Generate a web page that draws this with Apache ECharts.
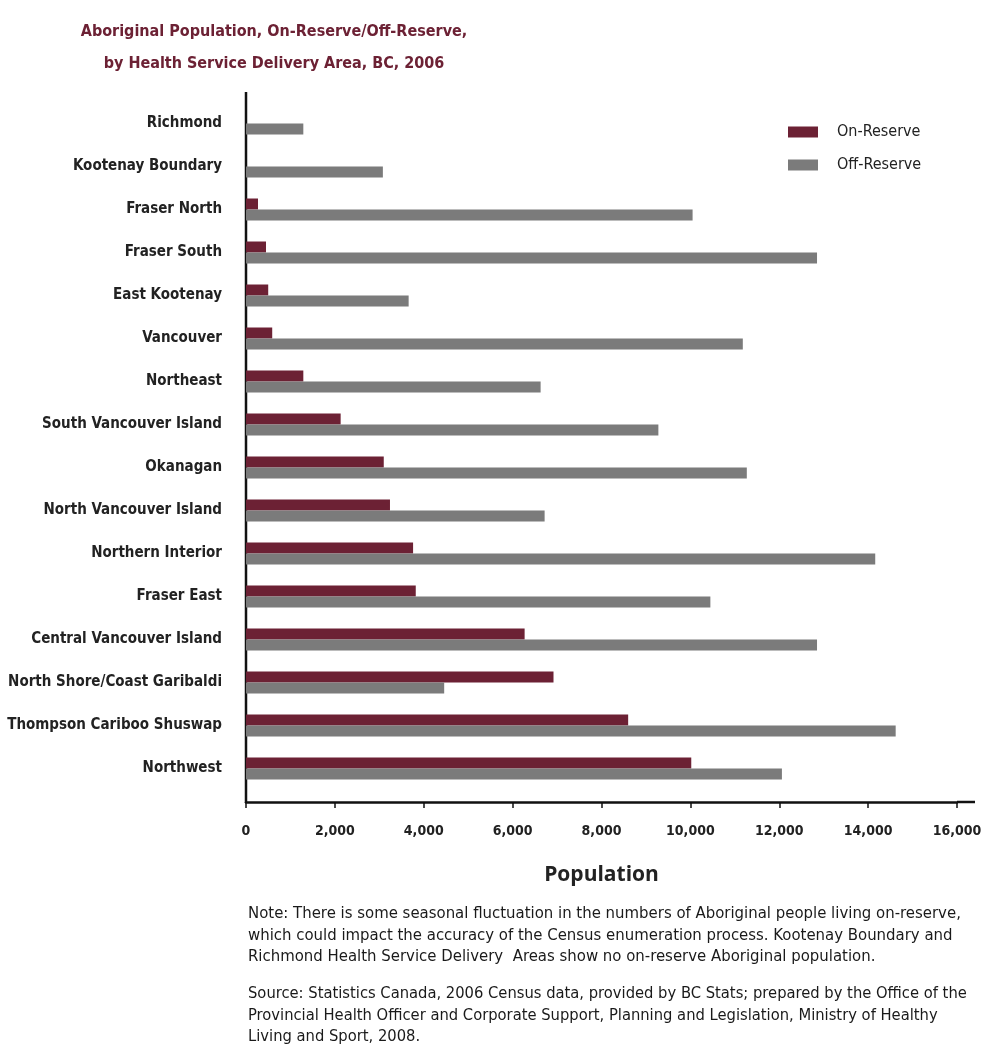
<!DOCTYPE html>
<html>
<head>
<meta charset="utf-8">
<script src="https://cdn.jsdelivr.net/npm/echarts@6/dist/echarts.min.js"></script>
<style>
  html, body { margin: 0; padding: 0; background: #fff; }
  #main { width: 991px; height: 1057px; }
</style>
</head>
<body>
<div id="main"></div>
<script>
  // health service delivery areas, top to bottom as in the chart
  var areas = ['Richmond', 'Kootenay Boundary', 'Fraser North', 'Fraser South', 'East Kootenay',
    'Vancouver', 'Northeast', 'South Vancouver Island', 'Okanagan', 'North Vancouver Island',
    'Northern Interior', 'Fraser East', 'Central Vancouver Island', 'North Shore/Coast Garibaldi',
    'Thompson Cariboo Shuswap', 'Northwest']
  var onReserve = [0, 0, 270, 450, 500, 590, 1290, 2130, 3100, 3240, 3760, 3820, 6270, 6920, 8600, 10020]
  var offReserve = [1290, 3080, 10050, 12850, 3660, 11180, 6630, 9280, 11270, 6720, 14160, 10450, 12850, 4460, 14620, 12060]
  var xTicks = [0, 2000, 4000, 6000, 8000, 10000, 12000, 14000, 16000]

  var noteText = 'Note: There is some seasonal fluctuation in the numbers of Aboriginal people living on-reserve,\n' +
    'which could impact the accuracy of the Census enumeration process. Kootenay Boundary and\n' +
    'Richmond Health Service Delivery  Areas show no on-reserve Aboriginal population.'
  var sourceText = 'Source: Statistics Canada, 2006 Census data, provided by BC Stats; prepared by the Office of the\n' +
    'Provincial Health Officer and Corporate Support, Planning and Legislation, Ministry of Healthy\n' +
    'Living and Sport, 2008.'

  var narrow = '"Liberation Sans Narrow", "DejaVu Sans Condensed", sans-serif'
  var maroon = '#6c2134'
  var grey = '#7b7b7b'

  var chart = echarts.init(document.getElementById('main'))

  var option = {
    animation: false,
    backgroundColor: '#fff',
    title: {
      text: 'Aboriginal Population, On-Reserve/Off-Reserve,\nby Health Service Delivery Area, BC, 2006',
      left: 269,
      top: 11,
      textAlign: 'center',
      textStyle: {
        fontFamily: narrow,
        fontWeight: 'bold',
        fontSize: 16,
        lineHeight: 32,
        color: maroon
      }
    },
    legend: {
      orient: 'vertical',
      left: 783,
      top: 119,
      icon: 'rect',
      itemWidth: 30,
      itemHeight: 11,
      itemGap: 17,
      textStyle: { fontFamily: narrow, fontSize: 16, color: '#222', padding: [0, 0, 0, 14] },
      data: ['On-Reserve', 'Off-Reserve']
    },
    grid: {
      left: 246,
      right: 34,
      top: 102,
      height: 688
    },
    xAxis: {
      type: 'value',
      min: 0,
      max: 16000,
      interval: 2000,
      offset: 12,
      name: 'Population',
      nameLocation: 'middle',
      nameGap: 63,
      nameTextStyle: { fontFamily: '"Open Sans", sans-serif', fontWeight: 'bold', fontSize: 21, color: '#222' },
      axisLine: { show: true, lineStyle: { color: '#111', width: 2.5 } },
      axisTick: { show: true, length: 6, lineStyle: { color: '#111', width: 1.5 } },
      splitLine: { show: false },
      axisLabel: {
        margin: 22,
        fontFamily: narrow,
        fontSize: 14,
        fontWeight: 'bold',
        color: '#222',
        formatter: function (v) { return xTicks.indexOf(v) >= 0 ? v.toLocaleString('en-US') : '' }
      }
    },
    yAxis: {
      type: 'category',
      inverse: true,
      data: areas,
      axisLine: { show: false },
      axisTick: { show: false },
      axisLabel: {
        margin: 24,
        fontFamily: narrow,
        fontSize: 15,
        fontWeight: 'bold',
        color: '#222'
      }
    },
    graphic: [
      // y axis line runs a little past the plot at both ends, as in the source
      { type: 'line', shape: { x1: 246, y1: 92, x2: 246, y2: 803 }, style: { stroke: '#111', lineWidth: 2.5 } },
      { type: 'line', shape: { x1: 957, y1: 802, x2: 975, y2: 802 }, style: { stroke: '#111', lineWidth: 2.5 } },
      {
        type: 'text', left: 248, top: 903,
        style: { text: noteText, fontFamily: narrow, fontSize: 16.6, lineHeight: 21.5, fill: '#1a1a1a' }
      },
      {
        type: 'text', left: 248, top: 983,
        style: { text: sourceText, fontFamily: narrow, fontSize: 16.4, lineHeight: 21.5, fill: '#1a1a1a' }
      }
    ],
    series: [
      {
        name: 'On-Reserve',
        type: 'bar',
        data: onReserve,
        barWidth: 11,
        barGap: '0%',
        itemStyle: { color: maroon }
      },
      {
        name: 'Off-Reserve',
        type: 'bar',
        data: offReserve,
        barWidth: 11,
        barGap: '0%',
        itemStyle: { color: grey }
      }
    ]
  }

  chart.setOption(option)
</script>
</body>
</html>
